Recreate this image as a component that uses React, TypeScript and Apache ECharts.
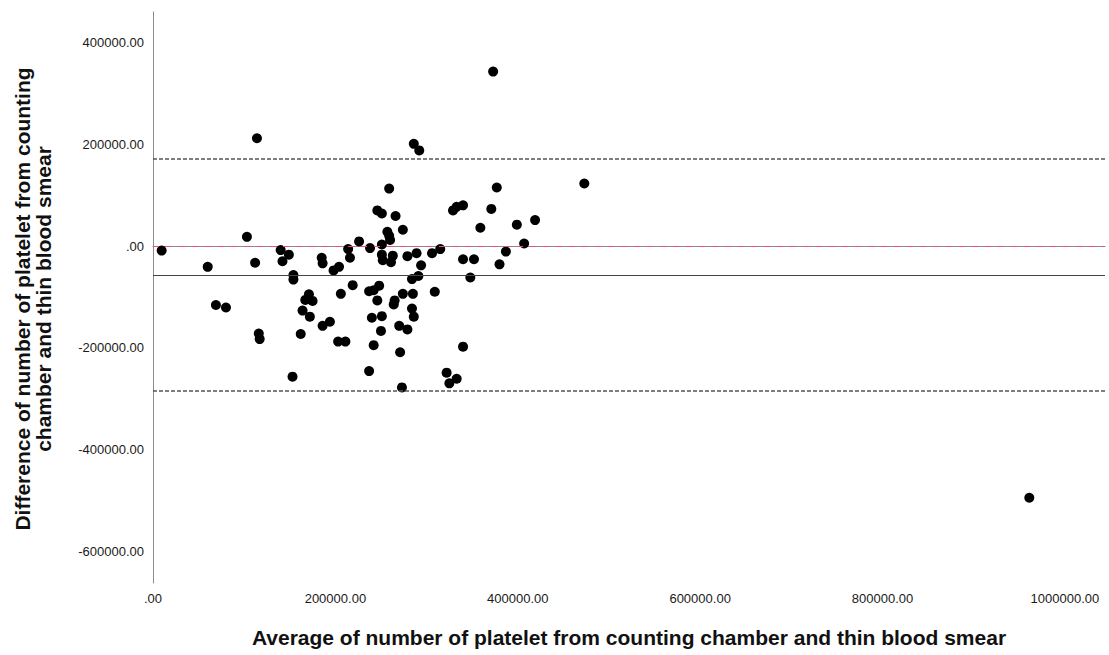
import React, { useEffect, useRef } from "react";
import * as echarts from "echarts";

// Average of the two methods (x) and their difference (y)
const averages = [
  9500, 60000, 69000, 80000, 103000, 112000, 114000, 116000, 117000, 140000,
  142000, 149000, 153000, 154000, 154000, 162000, 164000, 167000, 171000, 175000,
  172000, 185000, 186000, 186000, 194000, 198000, 204000, 203000, 211000, 206000,
  214000, 216000, 219000, 226000, 237000, 238000, 237000, 240000, 242000, 242000,
  246000, 246000, 248000, 251000, 251000, 251000, 252000, 251000, 250000, 257000,
  259000, 260000, 259000, 261000, 263000, 265000, 264000, 266000, 270000, 271000,
  273000, 274000, 274000, 279000, 279000, 284000, 285000, 286000, 284000, 286000,
  292000, 289000, 294000, 291000, 306000, 309000, 315000, 322000, 325000, 329000,
  333000, 333000, 340000, 340000, 340000, 348000, 352000, 359000, 371000, 373000,
  377000, 380000, 387000, 399000, 407000, 419000, 473000, 961000,
];
const differences = [
  -9000, -41000, -116000, -121000, 18000, -33000, 212000, -172000, -183000, -8000,
  -30000, -17000, -257000, -57000, -66000, -173000, -127000, -106000, -95000, -108000,
  -139000, -23000, -34000, -157000, -149000, -48000, -41000, -188000, -188000, -94000,
  -6000, -23000, -77000, 9000, -246000, -4000, -89000, -141000, -195000, -87000,
  -107000, 70000, -78000, 64000, 3000, -17000, -28000, -138000, -167000, 28000,
  20000, 12000, 113000, -32000, -19000, -107000, -115000, 59000, -157000, -209000,
  -278000, 32000, -94000, -164000, -20000, -123000, -94000, -139000, -65000, 201000,
  188000, -14000, -38000, -59000, -14000, -90000, -6000, -249000, -270000, 70000,
  77000, -261000, 80000, -26000, -198000, -62000, -26000, 36000, 73000, 343000,
  115000, -36000, -11000, 42000, 5000, 51000, 123000, -495000,
];

// Reference lines
const upperLimit = 171700;
const zeroLine = 0;
const meanDifference = -57000;
const lowerLimit = -285000;

const xTicks = [0, 200000, 400000, 600000, 800000, 1000000];
const yTicks = [-600000, -400000, -200000, 0, 200000, 400000];

const fmt = (v: number) => (v === 0 ? ".00" : Number(v).toFixed(2));

export default function App() {
  const ref = useRef<HTMLDivElement>(null);
  useEffect(() => {
    if (!ref.current) return;
    const chart = echarts.init(ref.current, null, { renderer: "svg" });
    const points = averages.map((a, i) => [a, differences[i]]);
    const labelStyle = {
      color: "#1a1a1a",
      fontFamily: "Liberation Sans, Arial, sans-serif",
      fontSize: 13,
    };
    chart.setOption({
      animation: false,
      backgroundColor: "#fff",
      grid: { left: 153, right: 4, top: 12, bottom: 72 },
      xAxis: {
        type: "value",
        min: 0,
        max: 1044000,
        splitLine: { show: false },
        axisTick: { show: false },
        axisLine: { show: true, lineStyle: { color: "#8c8c8c", width: 1 } },
        axisLabel: {
          ...labelStyle,
          margin: 9,
          customValues: xTicks,
          formatter: fmt,
        },
      },
      yAxis: {
        type: "value",
        min: -662700,
        max: 460200,
        splitLine: { show: false },
        axisTick: { show: false },
        axisLine: { show: true, lineStyle: { color: "#8c8c8c", width: 1 } },
        axisLabel: {
          ...labelStyle,
          margin: 9,
          customValues: yTicks,
          formatter: fmt,
        },
      },
      graphic: [
        {
          type: "text",
          x: 629,
          y: 637,
          style: {
            text: "Average of number of platelet from counting chamber and thin blood smear",
            fill: "#111",
            font: "bold 21px 'Liberation Sans', Arial, sans-serif",
            textAlign: "center",
            textVerticalAlign: "middle",
          },
        },
        {
          type: "text",
          x: 33,
          y: 299,
          rotation: Math.PI / 2,
          style: {
            text: "Difference of number of platelet from counting\nchamber and thin blood smear",
            fill: "#111",
            font: "bold 21px 'Liberation Sans', Arial, sans-serif",
            lineHeight: 21,
            textAlign: "center",
            textVerticalAlign: "middle",
          },
        },
      ],
      series: [
        {
          type: "scatter",
          data: points,
          symbol: "circle",
          symbolSize: 10,
          itemStyle: { color: "#000", opacity: 1 },
          z: 3,
          markLine: {
            silent: true,
            symbol: "none",
            label: { show: false },
            data: [
              { yAxis: upperLimit, lineStyle: { color: "#555", type: [4, 2], width: 1.5 } },
              { yAxis: lowerLimit, lineStyle: { color: "#555", type: [4, 2], width: 1.5 } },
              { yAxis: zeroLine, lineStyle: { color: "#ee4d72", type: [6, 7], width: 1, opacity: 1 } },
              { yAxis: meanDifference, lineStyle: { color: "#444", type: "solid", width: 1.2 } },
            ],
          },
        },
      ],
    });
    return () => chart.dispose();
  }, []);
  return (
    <div
      ref={ref}
      style={{ position: "fixed", left: 0, top: 0, width: 1109, height: 655 }}
    />
  );
}
